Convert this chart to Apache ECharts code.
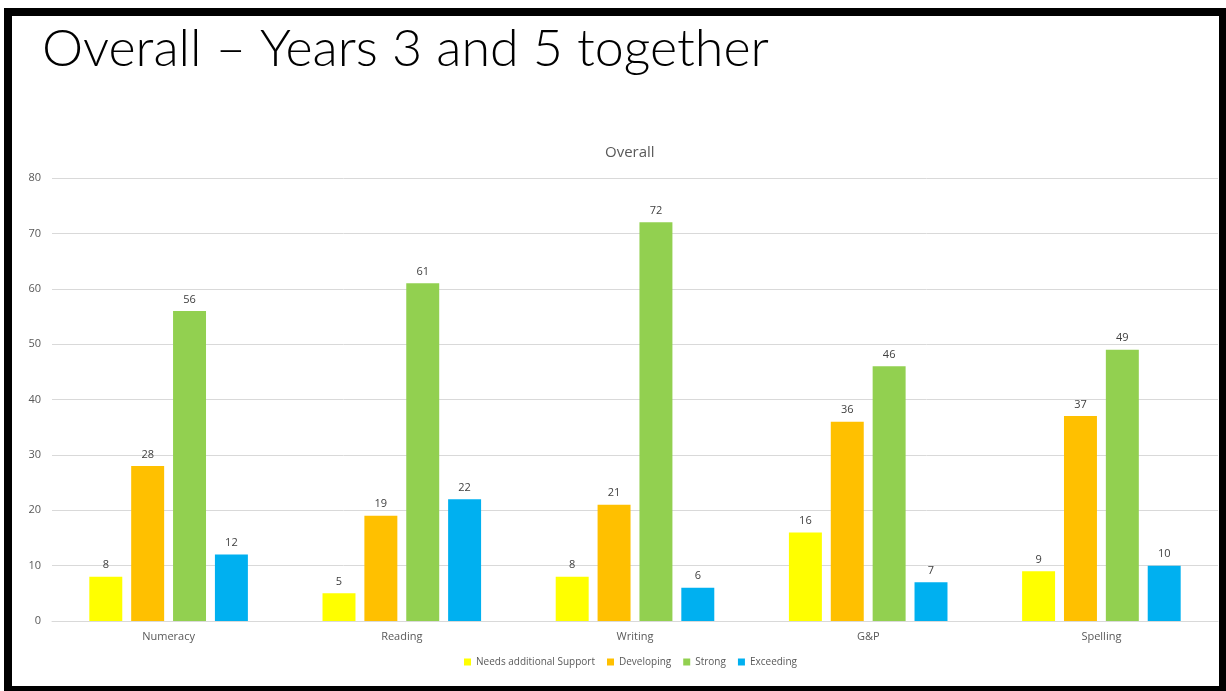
<!DOCTYPE html>
<html>
<head>
<meta charset="utf-8">
<script src="https://cdn.jsdelivr.net/npm/echarts@6/dist/echarts.min.js"></script>
<style>
  html, body { margin: 0; padding: 0; background: #fff; }
  #wrap { position: relative; width: 1226px; height: 691px; overflow: hidden; background: #fff; }
  #chart { position: absolute; left: 0; top: 0; width: 1226px; height: 691px; }
  #frame { position: absolute; left: 4px; top: 8px; right: 0; bottom: 0;
           border-style: solid; border-color: #000; border-width: 8px 7px 5px 8px;
           box-sizing: border-box; pointer-events: none; }
</style>
</head>
<body>
<div id="wrap">
  <div id="chart"></div>
  <div id="frame"></div>
</div>
<script>
// Subjects along the x axis
const categories = ['Numeracy', 'Reading', 'Writing', 'G&P', 'Spelling'];
// Pupil counts per attainment band
const needsSupport = [8, 5, 8, 16, 9];
const developing = [28, 19, 21, 36, 37];
const strong = [56, 61, 72, 46, 49];
const exceeding = [12, 22, 6, 7, 10];
const seriesNames = ['Needs additional Support', 'Developing', 'Strong', 'Exceeding'];
const seriesColors = ['#FFFF00', '#FFC000', '#92D050', '#00B0F0'];

const font = "'Open Sans', 'Noto Sans', sans-serif";
const chart = echarts.init(document.getElementById('chart'), null, { renderer: 'canvas' });

function bar(name, data, color) {
  return {
    name: name,
    type: 'bar',
    data: data,
    itemStyle: { color: color },
    barGap: '27%',
    barCategoryGap: '32%',
    label: {
      show: true, position: 'top', distance: 6,
      color: '#404040', fontSize: 11, fontFamily: font
    }
  };
}

chart.setOption({
  animation: false,
  title: [
    {
      text: 'Overall – Years 3 and 5 together',
      left: 37, top: 18,
      textStyle: { fontFamily: "Lato, sans-serif", fontWeight: 300, fontSize: 52, color: '#000' }
    },
    {
      text: 'Overall',
      left: 600, top: 140,
      textStyle: { fontFamily: font, fontWeight: 'normal', fontSize: 15, color: '#595959' }
    }
  ],
  legend: {
    bottom: 19, left: 459,
    icon: 'rect', itemWidth: 7, itemHeight: 7, itemGap: 12, itemTextGap: 4,
    textStyle: { color: '#595959', fontSize: 10, fontFamily: font },
    data: seriesNames
  },
  grid: { left: 52, right: 8, top: 178, bottom: 70, containLabel: false },
  xAxis: {
    type: 'category',
    data: categories,
    axisLine: { lineStyle: { color: '#d9d9d9' } },
    axisTick: { show: false },
    axisLabel: { color: '#595959', fontSize: 11, fontFamily: font, margin: 10 }
  },
  yAxis: {
    type: 'value',
    min: 0, max: 80, interval: 10,
    axisLine: { show: false },
    axisTick: { show: false },
    splitLine: { lineStyle: { color: '#d9d9d9' } },
    axisLabel: { color: '#595959', fontSize: 11, fontFamily: font, margin: 11 }
  },
  series: [
    bar(seriesNames[0], needsSupport, seriesColors[0]),
    bar(seriesNames[1], developing, seriesColors[1]),
    bar(seriesNames[2], strong, seriesColors[2]),
    bar(seriesNames[3], exceeding, seriesColors[3])
  ]
});
</script>
</body>
</html>
